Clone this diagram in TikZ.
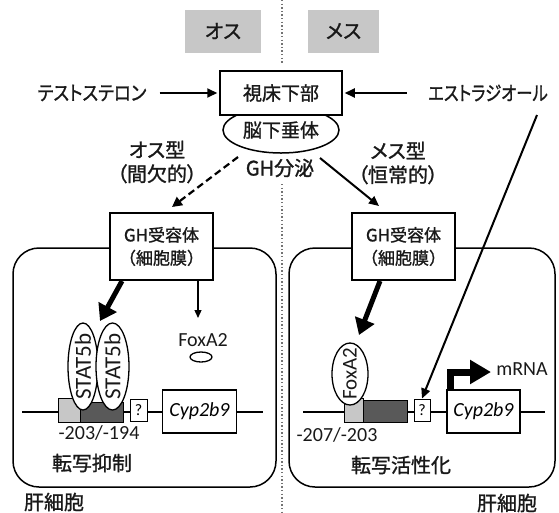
\documentclass[tikz,border=0pt]{standalone}
\usepackage{fontspec}
\setmainfont{Carlito}
\newfontfamily\jp[RawFeature={+palt}, FakeBold=1.2]{Noto Sans CJK JP}
\newfontfamily\jpf[FakeBold=1.2]{Noto Sans CJK JP}
\usetikzlibrary{arrows.meta,shapes.geometric}
\tikzset{
  jtext/.style={font=\jp\fontsize{20}{24}\selectfont, text=black!90, inner sep=0pt, align=center},
  ltext/.style={font=\fontsize{20}{24}\selectfont, text=black!90, inner sep=0pt},
  graybox/.style={fill=black!22, minimum height=43pt, inner sep=0pt, font=\jp\fontsize{20}{24}\selectfont, text=black!90},
  bx/.style={draw, line width=1.5pt, fill=white, inner sep=0pt},
  recbox/.style={bx, minimum width=103pt, minimum height=67pt, font=\jpf\fontsize{17}{23}\selectfont, align=center, text=black!90},
  cellbox/.style={draw, line width=1.5pt, rounded corners=26pt, inner sep=0pt},
  arr/.style={line width=2pt, -{Triangle[length=10pt,width=9pt]}},
  thinarr/.style={line width=1.3pt, -{Triangle[length=8pt,width=7pt]}},
  bigarr/.style={line width=5pt, -{Triangle[length=16pt,width=20pt]}},
  dasharr/.style={line width=2.2pt, dash pattern=on 7pt off 4pt, -{Triangle[length=10pt,width=10pt]}},
  divider/.style={line width=1.4pt, black!55, dash pattern=on 1.4pt off 2.2pt},
  dna/.style={line width=1.5pt},
  lgbox/.style={draw, line width=1pt, fill=black!22, inner sep=0pt},
  dgbox/.style={draw, line width=1pt, fill=black!65, inner sep=0pt},
  qbox/.style={draw, line width=1pt, fill=white, inner sep=0pt, font=\fontsize{16}{18}\selectfont},
  cypbox/.style={draw, line width=1.3pt, fill=white, inner sep=0pt, minimum width=74pt, minimum height=43pt, font=\itshape\fontsize{20}{24}\selectfont},
  tf/.style={ellipse, draw, line width=1.3pt, fill=white, inner sep=0pt},
  rtext/.style={rotate=90, inner sep=0pt, text=black!90}
}
\begin{document}
\begin{tikzpicture}[x=1pt,y=-1pt]
\useasboundingbox (0,0) rectangle (559,512);

% divider
\coordinate (dv0) at (282,0);
\coordinate (dv1) at (282,64);
\coordinate (dv2) at (282,184);
\coordinate (dv3) at (282,512);
\draw[divider] (dv0) -- (dv1);
\draw[divider] (dv2) -- (dv3);

% header boxes
\node[graybox, minimum width=76pt] (male) at (223,31) {オス};
\node[graybox, minimum width=71pt] (female) at (343.5,31) {メス};

% hypothalamus / pituitary
\node[ellipse, draw, line width=1.5pt, fill=white, minimum width=116pt, minimum height=46pt, inner sep=0pt, font=\jp\fontsize{19}{24}\selectfont, text=black!90] (pit) at (281,130) {脳下垂体};
\node[bx, minimum width=122pt, minimum height=44pt, font=\jp\fontsize{19}{24}\selectfont, text=black!90] (hyp) at (281,93) {視床下部};

\node[jtext] (testo) at (92,93) {\scalebox{0.87}[1]{テストステロン}};
\node[jtext] (estra) at (488,93) {\scalebox{0.82}[1]{エストラジオール}};
\draw[arr, shorten <=13pt, shorten >=2pt] (testo) -- (hyp);
\draw[arr, shorten <=21pt, shorten >=2pt] (estra) -- (hyp);

\node[jtext, fill=white, inner sep=2pt] (ghs) at (280,168) {GH分泌};
\node[jtext] (mtype) at (157,162) {オス型\\（間欠的）};
\node[jtext] (ftype) at (398,163) {メス型\\（恒常的）};

% cells
\node[cellbox, minimum width=263pt, minimum height=239pt] (cellL) at (144.5,367.5) {};
\node[cellbox, minimum width=266pt, minimum height=239pt] (cellR) at (422,367.5) {};

% receptors
\node[recbox] (recL) at (161.5,246.5) {GH受容体\\（細胞膜）};
\node[recbox] (recR) at (403.5,246.5) {GH受容体\\（細胞膜）};

% GH secretion arrows
\coordinate (dS) at (238,157);
\coordinate (dE) at (172,207);
\draw[dasharr] (dS) -- (dE);
\coordinate (fS) at (320,158);
\coordinate (fE) at (379,206);
\draw[arr] (fS) -- (fE);

% ---------- left cell ----------
\coordinate (dnaL1) at (22,412);
\coordinate (dnaL2) at (263,412);
\draw[dna] (dnaL1) -- (dnaL2);
\node[lgbox, minimum width=22pt, minimum height=24pt] (lgL) at (69,410) {};
\node[dgbox, minimum width=43pt, minimum height=20pt] (dgL) at (101.5,412) {};
\node[qbox, minimum width=17pt, minimum height=22pt] (qL) at (138.5,410) {?};
\node[cypbox] (cypL) at (199.5,411.5) {Cyp2b9};

\node[tf, minimum width=30pt, minimum height=87pt] (st1) at (83,366.5) {};
\node[rtext, font=\fontsize{23}{26}\selectfont] (st1t) at (st1) {STAT5b};
\node[tf, minimum width=33pt, minimum height=87pt] (st2) at (112.5,366.5) {};
\node[rtext, font=\fontsize{23}{26}\selectfont] (st2t) at (st2) {STAT5b};

\node[ltext] (foxL) at (203,340) {FoxA2};
\node[tf, minimum width=22pt, minimum height=10pt] (foxLe) at (201,357) {};

\coordinate (bS) at (122,281);
\coordinate (bE) at (100,321);
\draw[bigarr] (bS) -- (bE);
\coordinate (tS) at (198,281);
\coordinate (tE) at (198,318);
\draw[thinarr] (tS) -- (tE);

\node[ltext] (posL) at (99,433) {-203/-194};
\node[jtext] (repr) at (92,463) {転写抑制};
\node[jtext] (liverL) at (54,502) {肝細胞};

% ---------- right cell ----------
\coordinate (dnaR1) at (303,412);
\coordinate (dnaR2) at (545,412);
\draw[dna] (dnaR1) -- (dnaR2);
\node[lgbox, minimum width=19pt, minimum height=24pt] (lgR) at (354,410) {};
\node[dgbox, minimum width=44pt, minimum height=22pt] (dgR) at (385,411) {};
\node[qbox, minimum width=16pt, minimum height=22pt] (qR) at (422,410) {?};
\node[cypbox, minimum width=73pt] (cypR) at (483.5,411.5) {Cyp2b9};

\node[tf, minimum width=36pt, minimum height=62pt] (foxR) at (350,374) {};
\node[rtext, font=\fontsize{21}{24}\selectfont] (foxRt) at (foxR) {FoxA2};

\node[ltext] (mrna) at (522,369) {mRNA};
\coordinate (pr0) at (450.5,390);
\coordinate (pr1) at (491,372);
\draw[line width=7pt, -{Triangle[length=21pt,width=23pt]}] (pr0) |- (pr1);

\coordinate (rS) at (380,281);
\coordinate (rE) at (359,335);
\draw[bigarr] (rS) -- (rE);
\coordinate (eS) at (537,115);
\draw[arr] (eS) -- (qR.north);

\node[ltext] (posR) at (337,435) {-207/-203};
\node[jtext] (act) at (401,465) {転写活性化};
\node[jtext] (liverR) at (507,503) {肝細胞};
\end{tikzpicture}
\end{document}
